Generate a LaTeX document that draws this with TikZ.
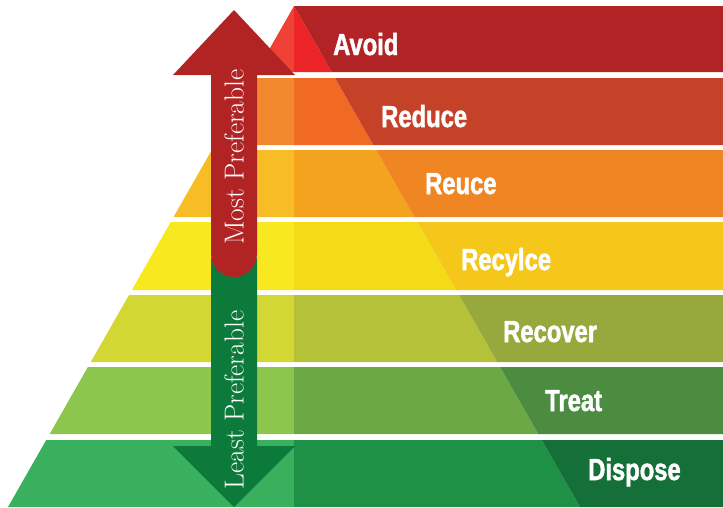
\documentclass[tikz,border=0pt]{standalone}
\usepackage{fontspec}
\usepackage{xcolor}
\usepackage{tikz}
\usetikzlibrary{calc}
\newfontfamily\lblfont[FakeStretch=0.78,BoldFeatures={FakeBold=1.6}]{Liberation Sans}
\definecolor{b1l}{HTML}{EF4136}\definecolor{b1m}{HTML}{EC2427}\definecolor{b1r}{HTML}{B12324}
\definecolor{b2l}{HTML}{F3892F}\definecolor{b2m}{HTML}{F16A23}\definecolor{b2r}{HTML}{C54128}
\definecolor{b3l}{HTML}{F8BC27}\definecolor{b3m}{HTML}{F4A31E}\definecolor{b3r}{HTML}{EF8523}
\definecolor{b4l}{HTML}{F8E81F}\definecolor{b4m}{HTML}{F3DC17}\definecolor{b4r}{HTML}{F5C71A}
\definecolor{b5l}{HTML}{D2D733}\definecolor{b5m}{HTML}{B6C13A}\definecolor{b5r}{HTML}{97A83C}
\definecolor{b6l}{HTML}{8CC64D}\definecolor{b6m}{HTML}{6CA844}\definecolor{b6r}{HTML}{4B8C40}
\definecolor{b7l}{HTML}{38B05D}\definecolor{b7m}{HTML}{1F9146}\definecolor{b7r}{HTML}{147038}
\definecolor{arred}{HTML}{B22424}
\definecolor{argreen}{HTML}{0C7A3B}
\tikzset{
  lbl/.style={anchor=west,text=white,inner sep=0pt,text height=22pt,text depth=0pt,
    font=\lblfont\bfseries\fontsize{30.5}{30.5}\selectfont},
  arlbl/.style={rotate=90,text=white,inner sep=0pt,font=\fontsize{27.5}{27.5}\selectfont}
}

\begin{document}
\begin{tikzpicture}[x=1pt,y=-1pt]
\useasboundingbox (0,0) rectangle (723,507);
% bands: light left half, middle, dark right strip
\foreach \yt/\yb/\cl/\cm/\cr in {6/72/b1l/b1m/b1r,78/145/b2l/b2m/b2r,150/217/b3l/b3m/b3r,
    222/290/b4l/b4m/b4r,295/362/b5l/b5m/b5r,367/434/b6l/b6m/b6r,440/507/b7l/b7m/b7r}{
  \pgfmathsetmacro{\lt}{294-0.5709*(\yt-6)}
  \pgfmathsetmacro{\lb}{294-0.5709*(\yb-6)}
  \pgfmathsetmacro{\rt}{294+0.5709*(\yt-6)}
  \pgfmathsetmacro{\rb}{294+0.5709*(\yb-6)}
  \fill[\cl] (\lt,\yt) -- (294,\yt) -- (294,\yb) -- (\lb,\yb) -- cycle;
  \fill[\cm] (294,\yt) -- (\rt,\yt) -- (\rb,\yb) -- (294,\yb) -- cycle;
  \fill[\cr] (\rt,\yt) -- (723,\yt) -- (723,\yb) -- (\rb,\yb) -- cycle;
}
\node[lbl] (avoid) at (333,44) {Avoid};
\node[lbl] (reduce) at (381,116) {Reduce};
\node[lbl] (reuce) at (425,183) {Reuce};
\node[lbl] (recylce) at (461,259) {Recylce};
\node[lbl] (recover) at (503,331) {Recover};
\node[lbl] (treat) at (545,400) {Treat};
\node[lbl] (dispose) at (588,469) {Dispose};
% double arrow
\fill[argreen] (211,258) -- (257,258) -- (257,446) -- (295,446) -- (234,507) -- (173,446) -- (211,446) -- cycle;
\fill[arred] (234,10) -- (295,75) -- (257,75) -- (257,254) arc[start angle=0,end angle=180,radius=23] -- (211,75) -- (173,75) -- cycle;
\node[arlbl] (most) at (234,157) {Most Preferable};
\node[arlbl] (least) at (234,400) {Least Preferable};
\end{tikzpicture}
\end{document}
